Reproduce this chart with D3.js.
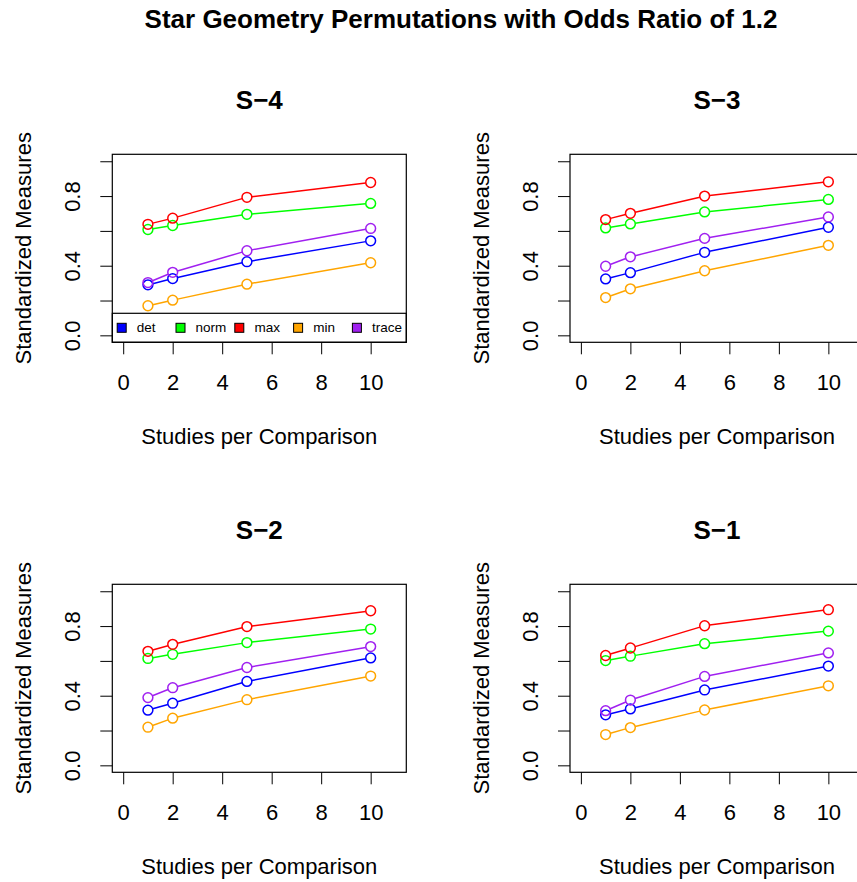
<!DOCTYPE html>
<html>
<head>
<meta charset="utf-8">
<script src="https://cdn.jsdelivr.net/npm/d3@7"></script>
<style>
  body { margin: 0; background: #fff; }
  svg { display: block; font-family: "Liberation Sans", Arial, sans-serif; }
</style>
</head>
<body>
<svg id="chart" width="857" height="882"></svg>
<script>
// Data
var xValues = [1, 2, 5, 10];
var seriesNames = ["det", "norm", "max", "min", "trace"];
var seriesColors = ["#0000FF", "#00FF00", "#FF0000", "#FFA500", "#A020F0"];
var panelTitles = ["S\u22124", "S\u22123", "S\u22122", "S\u22121"];
var xTickValues = [0, 2, 4, 6, 8, 10];
var yTickValues = [0, 0.2, 0.4, 0.6, 0.8, 1.0];
var yTickLabels = ["0.0", "", "0.4", "", "0.8", ""];

// S-4
var detS4   = [0.290, 0.326, 0.423, 0.543];
var normS4  = [0.608, 0.631, 0.695, 0.758];
var maxS4   = [0.638, 0.673, 0.793, 0.878];
var minS4   = [0.170, 0.202, 0.294, 0.417];
var traceS4 = [0.303, 0.362, 0.486, 0.614];
// S-3
var detS3   = [0.324, 0.360, 0.477, 0.621];
var normS3  = [0.617, 0.640, 0.709, 0.781];
var maxS3   = [0.665, 0.701, 0.800, 0.882];
var minS3   = [0.217, 0.267, 0.371, 0.517];
var traceS3 = [0.397, 0.451, 0.557, 0.680];
// S-2
var detS2   = [0.317, 0.357, 0.482, 0.617];
var normS2  = [0.614, 0.638, 0.705, 0.783];
var maxS2   = [0.655, 0.695, 0.797, 0.888];
var minS2   = [0.219, 0.271, 0.377, 0.513];
var traceS2 = [0.389, 0.446, 0.562, 0.682];
// S-1
var detS1   = [0.290, 0.324, 0.433, 0.570];
var normS1  = [0.602, 0.627, 0.699, 0.771];
var maxS1   = [0.631, 0.674, 0.802, 0.894];
var minS1   = [0.177, 0.217, 0.318, 0.457];
var traceS1 = [0.314, 0.375, 0.511, 0.646];

var panelValues = [
    [detS4, normS4, maxS4, minS4, traceS4],
    [detS3, normS3, maxS3, minS3, traceS3],
    [detS2, normS2, maxS2, minS2, traceS2],
    [detS1, normS1, maxS1, minS1, traceS1]
];

// Layout
var boxW = 294, boxH = 188;
var boxLeft = [112.3, 570];
var boxTop = [154.3, 584.3];
var pointR = 4.9;

var svg = d3.select("#chart");

svg.append("text")
    .attr("x", 461).attr("y", 28)
    .attr("text-anchor", "middle")
    .style("font-size", "26px").style("font-weight", "bold")
    .text("Star Geometry Permutations with Odds Ratio of 1.2");

var x = d3.scaleLinear().domain([-0.44, 11.44]).range([0, boxW]);
var y = d3.scaleLinear().domain([-0.04, 1.04]).range([boxH, 0]);

panelValues.forEach(function(values, p) {
    var g = svg.append("g")
        .attr("transform", "translate(" + boxLeft[p % 2] + "," + boxTop[Math.floor(p / 2)] + ")");

    // title
    g.append("text")
        .attr("x", boxW / 2).attr("y", -45)
        .attr("text-anchor", "middle")
        .style("font-size", "26px").style("font-weight", "bold")
        .text(panelTitles[p]);

    // y axis
    var yAxis = g.append("g")
        .call(d3.axisLeft(y).tickValues(yTickValues).tickSize(12)
            .tickFormat(function(d, i) { return yTickLabels[i]; }));
    yAxis.select(".domain").remove();
    yAxis.selectAll("line").attr("stroke", "#000").attr("stroke-width", 1);
    yAxis.selectAll("text")
        .attr("transform", "rotate(-90)")
        .attr("x", 0).attr("y", -32).attr("dy", 0)
        .attr("text-anchor", "middle")
        .attr("fill", "#000")
        .style("font-size", "22px").style("font-family", "Liberation Sans, Arial, sans-serif");

    // x axis
    var xAxis = g.append("g")
        .attr("transform", "translate(0," + boxH + ")")
        .call(d3.axisBottom(x).tickValues(xTickValues).tickSize(12).tickFormat(d3.format("d")));
    xAxis.select(".domain").remove();
    xAxis.selectAll("line").attr("stroke", "#000").attr("stroke-width", 1);
    xAxis.selectAll("text")
        .attr("y", 48).attr("dy", 0)
        .attr("fill", "#000")
        .style("font-size", "22px").style("font-family", "Liberation Sans, Arial, sans-serif");

    // axis titles
    g.append("text")
        .attr("x", boxW / 2).attr("y", boxH + 101.6)
        .attr("text-anchor", "middle")
        .style("font-size", "22px")
        .text("Studies per Comparison");
    g.append("text")
        .attr("transform", "translate(-81," + (boxH / 2) + ") rotate(-90)")
        .attr("text-anchor", "middle")
        .style("font-size", "22px")
        .text("Standardized Measures");

    // series: lines with gaps at the points, open circles
    values.forEach(function(vals, s) {
        var pts = vals.map(function(v, i) { return [x(xValues[i]), y(v)]; });
        var segs = d3.pairs(pts).map(function(pr) {
            var dx = pr[1][0] - pr[0][0], dy = pr[1][1] - pr[0][1];
            var len = Math.sqrt(dx * dx + dy * dy);
            var ux = dx / len, uy = dy / len;
            return [pr[0][0] + ux * pointR, pr[0][1] + uy * pointR,
                    pr[1][0] - ux * pointR, pr[1][1] - uy * pointR];
        });
        g.append("g").selectAll("line").data(segs).enter().append("line")
            .attr("x1", function(d) { return d[0]; })
            .attr("y1", function(d) { return d[1]; })
            .attr("x2", function(d) { return d[2]; })
            .attr("y2", function(d) { return d[3]; })
            .attr("stroke", seriesColors[s])
            .attr("stroke-width", 1.5);
        g.append("g").selectAll("circle").data(pts).enter().append("circle")
            .attr("cx", function(d) { return d[0]; })
            .attr("cy", function(d) { return d[1]; })
            .attr("r", pointR)
            .attr("fill", "none")
            .attr("stroke", seriesColors[s])
            .attr("stroke-width", 1.5);
    });

    // legend only on the first panel
    if (p === 0) {
        var legH = 29;
        var band = d3.scaleBand().domain(seriesNames).range([0, boxW]);
        var leg = g.append("g").attr("transform", "translate(0," + (boxH - legH) + ")");
        leg.append("rect")
            .attr("x", 0).attr("y", 0).attr("width", boxW).attr("height", legH)
            .attr("fill", "#fff").attr("stroke", "#000").attr("stroke-width", 1.2);
        var items = leg.selectAll("g.item").data(seriesNames).enter().append("g")
            .attr("class", "item")
            .attr("transform", function(d) { return "translate(" + band(d) + ",0)"; });
        items.append("rect")
            .attr("x", 9.4 - 4.5).attr("y", legH / 2 - 4.5)
            .attr("width", 9).attr("height", 9)
            .attr("fill", function(d, i) { return seriesColors[i]; })
            .attr("stroke", "#000").attr("stroke-width", 1);
        items.append("text")
            .attr("x", 24.5).attr("y", legH / 2 + 4.7)
            .style("font-size", "13.5px")
            .text(function(d) { return d; });
    }

    // plot box
    g.append("rect")
        .attr("x", 0).attr("y", 0).attr("width", boxW).attr("height", boxH)
        .attr("fill", "none").attr("stroke", "#000").attr("stroke-width", 1.2);
});
</script>
</body>
</html>
